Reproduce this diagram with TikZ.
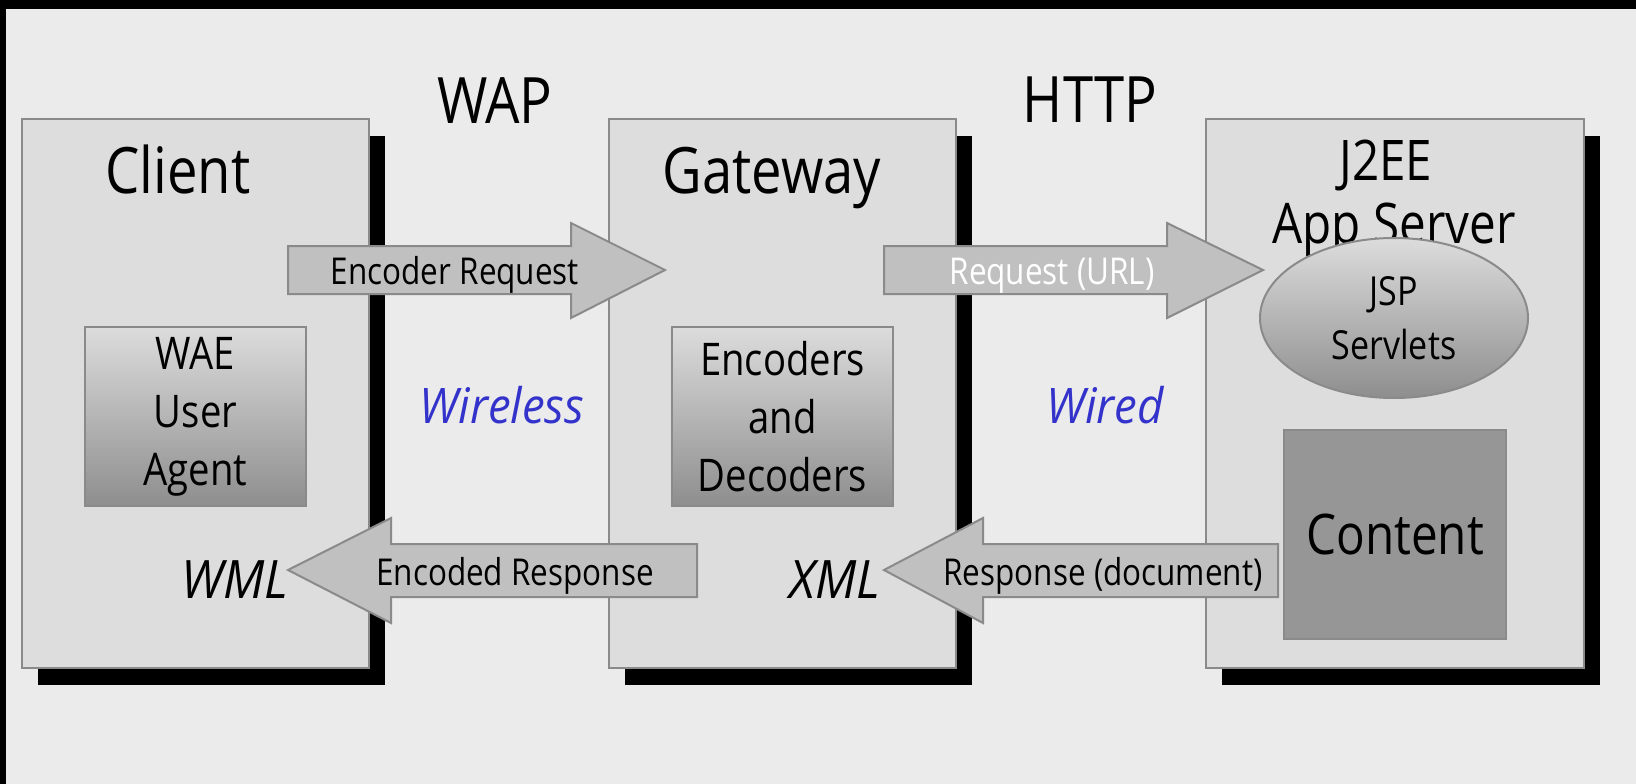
\documentclass[tikz,border=0pt]{standalone}
\usepackage{fontspec}
\setmainfont{Open Sans}[FakeStretch=0.85]
\newfontfamily\obliquefont{Open Sans}[FakeStretch=0.93]
\usetikzlibrary{shadows,shapes.geometric}
\definecolor{bg}{HTML}{EBEBEB}
\definecolor{boxfill}{HTML}{DDDDDD}
\definecolor{edge}{HTML}{8A8A8A}
\definecolor{arrowfill}{HTML}{C0C0C0}
\definecolor{contentfill}{HTML}{969696}
\definecolor{gradtop}{HTML}{DCDCDC}
\definecolor{gradbot}{HTML}{8E8E8E}
\definecolor{netblue}{HTML}{3333CC}
\begin{document}
\begin{tikzpicture}[x=1pt,y=-1pt,
  tier/.style={rectangle, draw=edge, line width=2pt, fill=boxfill, anchor=north west, inner sep=0pt,
    minimum height=549pt,
    drop shadow={shadow xshift=16pt, shadow yshift=-17pt, fill=black, opacity=1}},
  inbox/.style={rectangle, draw=edge, line width=2pt, anchor=north west, inner sep=0pt,
    minimum width=221pt, minimum height=179pt, top color=gradtop, bottom color=gradbot,
    align=center, font=\fontsize{45}{58}\selectfont},
  title/.style={anchor=base, font=\fontsize{64}{64}\selectfont},
  subtitle/.style={anchor=base, font=\fontsize{56}{56}\selectfont},
  blockarrow/.style={draw=edge, line width=2pt, fill=arrowfill, line join=miter},
  alabel/.style={anchor=base, font=\fontsize{37}{37}\selectfont},
  medium/.style={anchor=base, font=\obliquefont\fontsize{49}{49}\selectfont\itshape, text=netblue},
  lang/.style={anchor=base, font=\obliquefont\fontsize{53}{53}\selectfont\itshape},
]
\useasboundingbox (0,0) rectangle (1636,784);
\fill[bg] (0,0) rectangle (1636,784);
\fill[black] (0,0) rectangle (1636,9);
\fill[black] (0,0) rectangle (6,784);

% tiers
\node[tier, minimum width=347pt] (client) at (21,118) {};
\node[tier, minimum width=347pt] (gateway) at (608,118) {};
\node[tier, minimum width=378pt] (server) at (1205,118) {};

% inner boxes
\node[inbox] (wae) at (84,326) {WAE\\User\\Agent};
\node[inbox] (codec) at (671,326) {Encoders\\and\\Decoders};
\node[rectangle, draw=edge, line width=2pt, fill=contentfill, anchor=north west, inner sep=0pt,
  minimum width=222pt, minimum height=209pt, font=\fontsize{56}{56}\selectfont] (content) at (1283,429) {Content};

% titles
\node[title] (clientT) at (178,193) {Client};
\node[title] (gatewayT) at (772,193) {Gateway};
\node[title] (wap) at (495,123) {WAP};
\node[title] (http) at (1090,122) {HTTP};
\node[subtitle] (j2ee) at (1386,180) {J2EE};
\node[subtitle] (appserver) at (1394,243) {App Server};

% JSP ellipse
\node[ellipse, draw=edge, line width=2pt, top color=gradtop, bottom color=gradbot,
  minimum width=268pt, minimum height=160pt, inner sep=0pt, align=center,
  font=\fontsize{40}{54}\selectfont] (jsp) at (1394,318) {JSP\\Servlets};

% media labels
\node[medium] (wireless) at (502,423) {Wireless};
\node[medium] (wired) at (1105,423) {Wired};
\node[lang] (wml) at (235,598) {WML};
\node[lang] (xml) at (835,598) {XML};

% block arrows
\draw[blockarrow] (288,246) -- (571,246) -- (571,223) -- (665,270) -- (571,318) -- (571,294) -- (288,294) -- cycle;
\draw[blockarrow] (884,246) -- (1167,246) -- (1167,223) -- (1263,270) -- (1167,318) -- (1167,294) -- (884,294) -- cycle;
\draw[blockarrow] (697,544) -- (391,544) -- (391,518) -- (288,570) -- (391,623) -- (391,597) -- (697,597) -- cycle;
\draw[blockarrow] (1278,544) -- (983,544) -- (983,518) -- (884,570) -- (983,623) -- (983,597) -- (1278,597) -- cycle;

\node[alabel] (encreq) at (455,284) {Encoder Request};
\node[alabel, text=white] (requrl) at (1052,284) {Request (URL)};
\node[alabel] (encresp) at (515,585) {Encoded Response};
\node[alabel] (respdoc) at (1103,585) {Response (document)};
\end{tikzpicture}
\end{document}
